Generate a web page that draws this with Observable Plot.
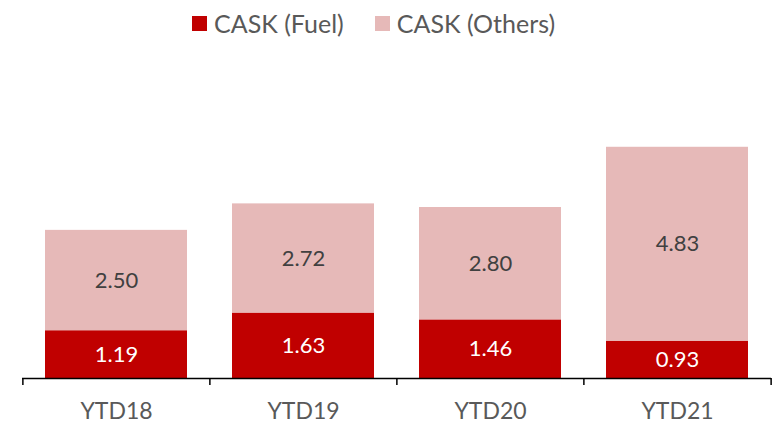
<!DOCTYPE html>
<html>
<head>
<meta charset="utf-8">
<script src="https://cdn.jsdelivr.net/npm/d3@7"></script>
<script src="https://cdn.jsdelivr.net/npm/@observablehq/plot@0.6"></script>
<style>
  html, body { margin: 0; padding: 0; background: #fff; }
  body { width: 783px; height: 424px; position: relative; overflow: hidden; font-family: Lato, "Open Sans", sans-serif; }
  #legend { position: absolute; left: 192px; top: 3px; height: 40px; display: flex; align-items: center; font-size: 25px; color: #595959; }
  .item { display: flex; align-items: center; margin-right: 31px; }
  .sw { width: 15px; height: 15px; margin-right: 7px; }
  #chart { position: absolute; left: 0; top: 44px; }
</style>
</head>
<body>
<div id="legend"></div>
<div id="chart"></div>
<script>
const categories = ["YTD18", "YTD19", "YTD20", "YTD21"];
const seriesNames = ["CASK (Fuel)", "CASK (Others)"];
const fuel = [1.19, 1.63, 1.46, 0.93];
const others = [2.50, 2.72, 2.80, 4.83];
const colors = ["#C00000", "#E6B9B8"];
const labelColors = ["#FFFFFF", "#404040"];

const seriesValues = [fuel, others];
const rows = [];
categories.forEach((c, i) => {
  let base = 0;
  seriesValues.forEach((vals, s) => {
    const v = vals[i];
    rows.push({cat: c, series: seriesNames[s], value: v, y1: base, y2: base + v, mid: base + v / 2, s});
    base += v;
  });
});

const W = 783, H = 380, mL = 22, mR = 12;
const step = (W - mL - mR) / categories.length;

const legend = document.getElementById("legend");
seriesNames.forEach((n, i) => {
  const it = document.createElement("div");
  it.className = "item";
  it.innerHTML = `<span class="sw" style="background:${colors[i]}"></span><span>${n}</span>`;
  legend.appendChild(it);
});

const plot = Plot.plot({
  width: W,
  height: H,
  marginLeft: mL,
  marginRight: mR,
  marginTop: 53,
  marginBottom: 46,
  style: {fontFamily: "Lato, 'Open Sans', sans-serif", background: "#fff"},
  x: {domain: categories, paddingInner: 0.24, paddingOuter: 0.12, axis: null},
  y: {domain: [0, 7], axis: null},
  color: {domain: seriesNames, range: colors},
  marks: [
    Plot.barY(rows, {x: "cat", y1: "y1", y2: "y2", fill: "series"}),
    Plot.ruleY([0], {stroke: "#000", strokeWidth: 1.5}),
    Plot.ruleX(categories, {x: d => d, y1: 0, y2: 0, insetBottom: -7, dx: -step / 2, stroke: "#000", strokeWidth: 1.5}),
    Plot.ruleX(categories.slice(-1), {x: d => d, y1: 0, y2: 0, insetBottom: -7, dx: step / 2, stroke: "#000", strokeWidth: 1.5}),
    Plot.text(rows, {x: "cat", y: "mid", text: d => d.value.toFixed(2), fill: d => labelColors[d.s], fontSize: 22}),
    Plot.text(categories, {x: d => d, y: 0, dy: 33, text: d => d, fill: "#595959", fontSize: 23})
  ]
});
document.getElementById("chart").appendChild(plot);
</script>
</body>
</html>
